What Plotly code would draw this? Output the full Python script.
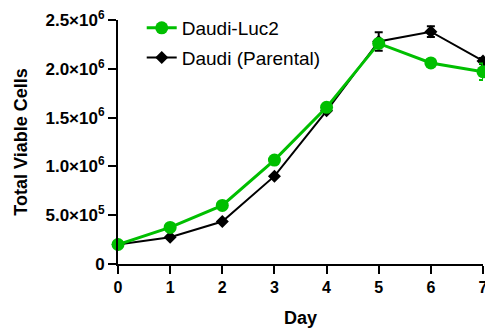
import plotly.graph_objects as go

days = [0, 1, 2, 3, 4, 5, 6, 7]
luc2_cells = [2.0e5, 3.75e5, 6.0e5, 1.065e6, 1.605e6, 2.26e6, 2.06e6, 1.97e6]
luc2_err = [0, 0, 0, 0, 0, 0, 0, 0.085e6]
parental_cells = [2.0e5, 2.75e5, 4.35e5, 9.0e5, 1.57e6, 2.28e6, 2.38e6, 2.08e6]
parental_err = [0, 0, 0, 0, 0, 0.094e6, 0.055e6, 0.03e6]

y_tickvals = [0, 5e5, 1e6, 1.5e6, 2e6, 2.5e6]
y_ticktext = ["0", "5.0×10<sup>5</sup>", "1.0×10<sup>6</sup>", "1.5×10<sup>6</sup>",
              "2.0×10<sup>6</sup>", "2.5×10<sup>6</sup>"]

GREEN = "#00BF00"
FONT = "Liberation Sans, Arial, sans-serif"

fig = go.Figure()

fig.add_trace(go.Scatter(
    x=days, y=parental_cells, name="Daudi (Parental)", legendrank=2, legendgroup="b",
    mode="lines+markers", cliponaxis=False,
    line=dict(color="black", width=2),
    marker=dict(symbol="diamond", size=10, color="black"),
    error_y=dict(type="data", array=parental_err, color="black", thickness=2, width=4),
))

fig.add_trace(go.Scatter(
    x=days, y=luc2_cells, name="Daudi-Luc2", legendrank=1, legendgroup="a",
    mode="lines+markers", cliponaxis=False,
    line=dict(color=GREEN, width=3),
    marker=dict(symbol="circle", size=13, color=GREEN),
    error_y=dict(type="data", array=luc2_err, color=GREEN, thickness=2, width=4),
))

fig.update_layout(
    width=485, height=329,
    margin=dict(l=118, r=2, t=20, b=65, autoexpand=False),
    paper_bgcolor="white", plot_bgcolor="white",
    font=dict(family=FONT, color="black"),
    showlegend=True,
    legend=dict(x=0.065, y=1.045, xanchor="left", yanchor="top",
                font=dict(size=19, family=FONT), bgcolor="rgba(0,0,0,0)",
                itemwidth=30, tracegroupgap=2),
)

fig.update_xaxes(
    range=[0, 7], tickvals=days, ticktext=[str(d) for d in days],
    ticklabeloverflow="allow", automargin=False,
    showgrid=False, zeroline=False,
    showline=True, linecolor="black", linewidth=2,
    ticks="outside", ticklen=8, tickwidth=2, tickcolor="black",
    tickfont=dict(size=16, family=FONT, weight="bold"),
    title=dict(text="<b>Day</b>", font=dict(size=18, family=FONT), standoff=16),
)

fig.update_yaxes(
    range=[0, 2.5e6], tickvals=y_tickvals, ticktext=y_ticktext,
    automargin=False,
    showgrid=False, zeroline=False,
    showline=True, linecolor="black", linewidth=2,
    ticks="outside", ticklen=8, tickwidth=2, tickcolor="black",
    tickfont=dict(size=17, family=FONT, weight="bold"),
    title=dict(text="<b>Total Viable Cells</b>", font=dict(size=18, family=FONT), standoff=13),
)

fig.write_html("out.html")
